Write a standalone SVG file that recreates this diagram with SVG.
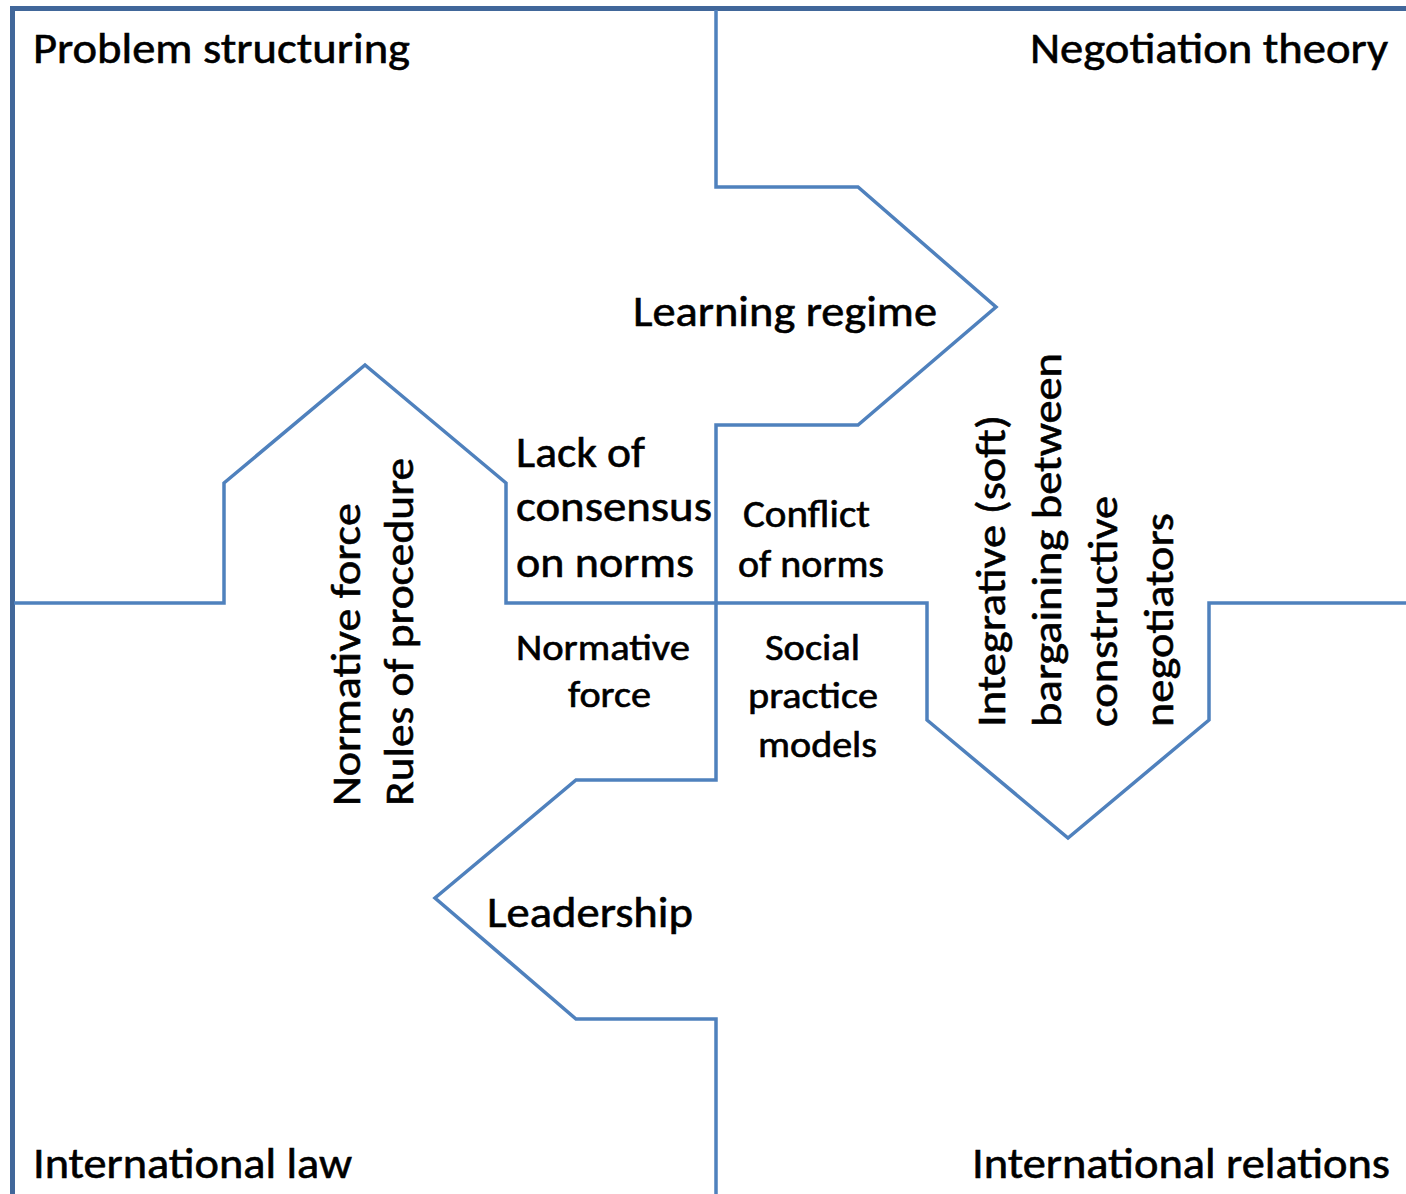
<svg xmlns="http://www.w3.org/2000/svg" width="1406" height="1194" viewBox="0 0 1406 1194">
<style>
.border{fill:none;stroke:#41679a;stroke-width:5}
.line{fill:none;stroke:#4f81bd;stroke-width:3.5;stroke-linejoin:miter}
text{font-family:Carlito,"Open Sans","Liberation Sans",sans-serif;fill:#000;stroke:#000;stroke-width:0.6}
.big{font-size:44px}
.mid{font-size:38px}
.sm{font-size:36px}
.vert{font-size:41px}
</style>
<rect width="1406" height="1194" fill="#fff" stroke="none"/>
<g id="connectors">
<path class="border" d="M12.5,1194 V8.5 H1406"/>
<path class="line" d="M716,10 V187 H858 L996,307 L858,425 H716 V780 H576 L435,898 L576,1019 H716 V1194"/>
<path class="line" d="M14,603 H224 V483 L365,365 L506,483 V603 H927 V720 L1068,838 L1209,720 V603 H1406"/>
</g>
<g id="problem-structuring"><text class="big" x="33" y="63" textLength="377" lengthAdjust="spacingAndGlyphs">Problem structuring</text></g>
<g id="negotiation-theory"><text class="big" x="1030" y="63" textLength="358" lengthAdjust="spacingAndGlyphs">Negotiation theory</text></g>
<g id="learning-regime"><text class="big" x="633" y="326" textLength="304" lengthAdjust="spacingAndGlyphs">Learning regime</text></g>
<g id="lack-of-consensus">
<text class="big" x="516" y="467" textLength="129" lengthAdjust="spacingAndGlyphs">Lack of</text>
<text class="big" x="516" y="521" textLength="196" lengthAdjust="spacingAndGlyphs">consensus</text>
<text class="big" x="516" y="577" textLength="178" lengthAdjust="spacingAndGlyphs">on norms</text>
</g>
<g id="conflict-of-norms">
<text class="mid" x="743" y="527" textLength="127" lengthAdjust="spacingAndGlyphs">Conflict</text>
<text class="mid" x="738" y="577" textLength="146" lengthAdjust="spacingAndGlyphs">of norms</text>
</g>
<g id="normative-force-center">
<text class="sm" x="516" y="660" textLength="174" lengthAdjust="spacingAndGlyphs">Normative</text>
<text class="sm" x="568" y="707" textLength="83" lengthAdjust="spacingAndGlyphs">force</text>
</g>
<g id="social-practice-models">
<text class="sm" x="765" y="660" textLength="95" lengthAdjust="spacingAndGlyphs">Social</text>
<text class="sm" x="748" y="708" textLength="130" lengthAdjust="spacingAndGlyphs">practice</text>
<text class="sm" x="758" y="757" textLength="119" lengthAdjust="spacingAndGlyphs">models</text>
</g>
<g id="leadership"><text class="big" x="487" y="927" textLength="206" lengthAdjust="spacingAndGlyphs">Leadership</text></g>
<g id="normative-rules">
<text class="vert" transform="translate(360,806) rotate(-90)" x="0" y="0" textLength="303" lengthAdjust="spacingAndGlyphs">Normative force</text>
<text class="vert" transform="translate(413,806) rotate(-90)" x="0" y="0" textLength="348" lengthAdjust="spacingAndGlyphs">Rules of procedure</text>
</g>
<g id="integrative-bargaining">
<text class="vert" transform="translate(1005,727) rotate(-90)" x="0" y="0" textLength="312" lengthAdjust="spacingAndGlyphs">Integrative (soft)</text>
<text class="vert" transform="translate(1061,727) rotate(-90)" x="0" y="0" textLength="374" lengthAdjust="spacingAndGlyphs">bargaining between</text>
<text class="vert" transform="translate(1117,727) rotate(-90)" x="0" y="0" textLength="231" lengthAdjust="spacingAndGlyphs">constructive</text>
<text class="vert" transform="translate(1173,727) rotate(-90)" x="0" y="0" textLength="214" lengthAdjust="spacingAndGlyphs">negotiators</text>
</g>
<g id="international-law"><text class="big" x="33" y="1178" textLength="319" lengthAdjust="spacingAndGlyphs">International law</text></g>
<g id="international-relations"><text class="big" x="972" y="1178" textLength="418" lengthAdjust="spacingAndGlyphs">International relations</text></g>
</svg>
